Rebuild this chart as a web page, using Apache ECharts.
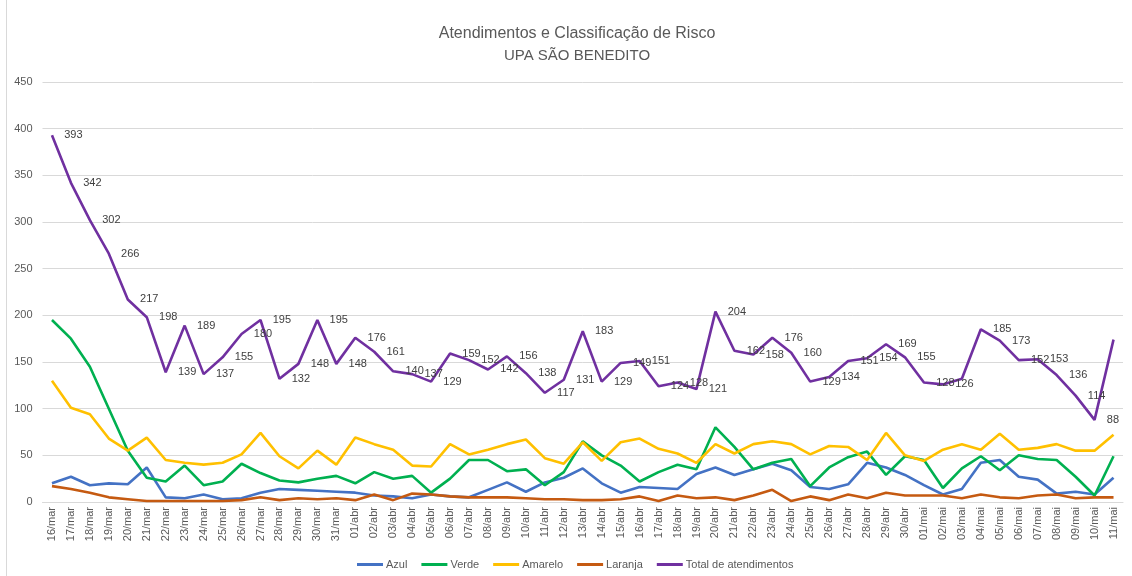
<!DOCTYPE html>
<html>
<head>
<meta charset="utf-8">
<script src="https://cdn.jsdelivr.net/npm/echarts@6/dist/echarts.min.js"></script>
<style>
html,body{margin:0;padding:0;background:#fff;}
#chart{width:1132px;height:576px;}
</style>
</head>
<body>
<div id="chart"></div>
<script>
const categories = ['16/mar','17/mar','18/mar','19/mar','20/mar','21/mar','22/mar','23/mar','24/mar','25/mar','26/mar','27/mar','28/mar','29/mar','30/mar','31/mar',
'01/abr','02/abr','03/abr','04/abr','05/abr','06/abr','07/abr','08/abr','09/abr','10/abr','11/abr','12/abr','13/abr','14/abr','15/abr','16/abr','17/abr','18/abr','19/abr','20/abr','21/abr','22/abr','23/abr','24/abr','25/abr','26/abr','27/abr','28/abr','29/abr','30/abr',
'01/mai','02/mai','03/mai','04/mai','05/mai','06/mai','07/mai','08/mai','09/mai','10/mai','11/mai'];

const azul    = [20,27,18,20,19,37,5,4,8,3,4,10,14,13,12,11,10,7,6,4,8,6,5,13,21,11,21,26,36,20,10,16,15,14,30,37,29,35,41,34,16,14,19,42,37,29,18,8,14,42,45,27,24,9,11,8,26];
const verde   = [195,175,145,100,55,26,22,39,18,22,41,31,23,21,25,28,20,32,25,28,10,25,45,45,33,35,18,32,65,50,39,22,32,40,35,80,59,35,42,46,17,37,48,54,29,49,45,15,36,49,34,50,46,45,27,7,49];
const amarelo = [130,101,94,68,55,69,45,42,40,42,51,74,49,36,55,40,69,62,56,39,38,62,51,56,62,67,47,41,64,44,64,68,57,52,42,62,52,62,65,62,51,60,59,45,74,50,44,56,62,56,73,56,58,62,55,55,72];
const laranja = [17,14,10,5,3,1,1,1,1,1,2,5,2,4,3,4,2,8,2,9,8,6,5,5,5,4,3,3,2,2,3,6,1,7,4,5,2,7,13,1,6,2,8,4,10,7,7,7,4,8,5,4,7,8,4,5,5];
const total   = [393,342,302,266,217,198,139,189,137,155,180,195,132,148,195,148,176,161,140,137,129,159,152,142,156,138,117,131,183,129,149,151,124,128,121,204,162,158,176,160,129,134,151,154,169,155,128,126,132,185,173,152,153,136,114,88,174];
const unlabeled = ['03/mai','11/mai'];
const yTicks = {min:0, max:450, interval:50};

const FONT = 'Liberation Sans, Arial, sans-serif';
const chart = echarts.init(document.getElementById('chart'), null, {renderer:'canvas'});

const totalData = total.map((v,i) => unlabeled.includes(categories[i]) ? {value:v, label:{show:false}} : v);

function lineSeries(name, data, color){
  return {name, type:'line', data, symbol:'none', smooth:false,
    lineStyle:{color, width:2.6}, itemStyle:{color}, emphasis:{disabled:true}, z:2};
}

chart.setOption({
  animation:false,
  backgroundColor:'#fff',
  title:{
    text:'Atendimentos e Classificação de Risco',
    subtext:'UPA SÃO BENEDITO',
    left:572, top:21, textAlign:'center', itemGap:6,
    textStyle:{fontFamily:FONT, fontSize:16, fontWeight:'normal', color:'#595959'},
    subtextStyle:{fontFamily:FONT, fontSize:15, color:'#595959'}
  },
  graphic:[{type:'line', shape:{x1:6.5,y1:0,x2:6.5,y2:576}, style:{stroke:'#d9d9d9', lineWidth:1}}],
  legend:{
    left:352, top:554, icon:'rect', itemWidth:26, itemHeight:3, itemGap:14,
    textStyle:{fontFamily:FONT, fontSize:11, color:'#595959', padding:[0,0,0,-2]},
    data:['Azul','Verde','Amarelo','Laranja','Total de atendimentos']
  },
  grid:{left:42.5, right:9, top:82, bottom:74, containLabel:false},
  xAxis:{
    type:'category', data:categories, boundaryGap:true,
    axisLine:{lineStyle:{color:'#d9d9d9'}}, axisTick:{show:false},
    axisLabel:{rotate:90, interval:0, fontFamily:FONT, fontSize:11, color:'#595959', margin:5}
  },
  yAxis:{
    type:'value', min:yTicks.min, max:yTicks.max, interval:yTicks.interval,
    axisLine:{show:false}, axisTick:{show:false},
    axisLabel:{fontFamily:FONT, fontSize:11, color:'#595959', margin:10},
    splitLine:{lineStyle:{color:'#d9d9d9', width:1}}
  },
  series:[
    lineSeries('Azul', azul, '#4472C4'),
    lineSeries('Verde', verde, '#00B050'),
    lineSeries('Amarelo', amarelo, '#FFC000'),
    lineSeries('Laranja', laranja, '#C55A11'),
    Object.assign(lineSeries('Total de atendimentos', totalData, '#7030A0'), {
      z:3,
      symbol:'circle', symbolSize:0.5, showSymbol:true,
      label:{show:true, position:'right', distance:12, fontFamily:FONT, fontSize:11, color:'#404040'},
      labelLayout:{hideOverlap:false}
    })
  ]
});
</script>
</body>
</html>
